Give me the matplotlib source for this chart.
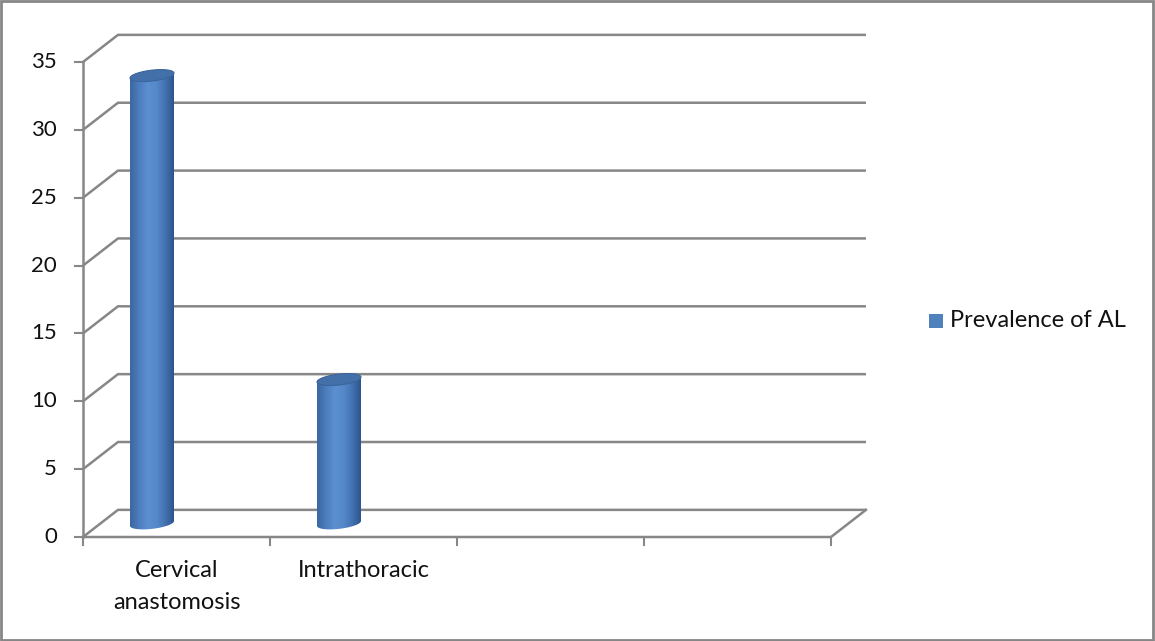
import matplotlib.pyplot as plt
import numpy as np
from matplotlib.colors import LinearSegmentedColormap
from matplotlib.patches import Polygon, Rectangle

plt.rcParams['font.family'] = ['Lato', 'DejaVu Sans']

categories = ['Cervical\nanastomosis', 'Intrathoracic', '', '']
values = [33, 10.6]
series_name = 'Prevalence of AL'
yticks = [0, 5, 10, 15, 20, 25, 30, 35]

grid_col = '#878787'
bar_col = '#4F81BD'
txt_col = '#111111'

# oblique depth offset of the back wall (category units, value units)
dx, dy = 0.187, 2.0
ncat = len(categories)

fig = plt.figure(figsize=(11.55, 6.41), dpi=100)
ax = fig.add_axes([0, 0, 1, 1])
ax.set_xlim(-0.4439, 5.7326)
ax.set_ylim(-7.663, 39.57)
ax.axis('off')

# outer frame
fig.patches.append(Rectangle((0.001, 0.002), 0.997, 0.996, transform=fig.transFigure,
                             fill=False, edgecolor='#868686', lw=2))

# side and back wall gridlines
for v in yticks:
    ax.plot([0, dx, ncat + dx], [v, v + dy, v + dy], color=grid_col, lw=1.8,
            solid_capstyle='butt', zorder=1)
# floor front and right edges
ax.plot([0, ncat, ncat + dx], [0, 0, dy], color=grid_col, lw=1.8, zorder=1)
# value axis
ax.plot([0, 0], [0, yticks[-1]], color=grid_col, lw=1.8, zorder=1)
for v in yticks:
    ax.plot([-0.045, 0], [v, v], color=grid_col, lw=1.5, zorder=1)
    ax.text(-0.139, v, str(v), ha='right', va='center', fontsize=16, color=txt_col)
# category ticks and labels
for i in range(ncat + 1):
    ax.plot([i, i], [0, -0.6], color=grid_col, lw=1.5, zorder=1)
for i, lab in enumerate(categories):
    if lab:
        ax.text(i + 0.5, -1.7, lab, ha='center', va='top', fontsize=17,
                color=txt_col, linespacing=1.65)

# cylinders
cmap = LinearSegmentedColormap.from_list('cyl', ['#3A67A0', '#4C7DBE', '#5B8FD0',
                                                '#5589CA', '#4373B2', '#2D558C'])
rx = 0.1176          # half width in category units
ry = 0.40            # half height of the end ellipses in value units
shear = 0.18         # ellipse tilt (value units per half width)
t = np.linspace(0, 2 * np.pi, 121)

for i, val in enumerate(values):
    cx = i + 0.369
    y0 = dy / 2
    y1 = val + dy / 2
    ex = cx + rx * np.cos(t)
    etilt = shear * np.cos(t)
    # body outline: left side, front half of base, right side, back half of top
    lo = t[(t >= np.pi) & (t <= 2 * np.pi)]
    hi = t[(t >= 0) & (t <= np.pi)]
    bx = np.concatenate([cx + rx * np.cos(lo), cx + rx * np.cos(hi)])
    by = np.concatenate([y0 + ry * np.sin(lo) + shear * np.cos(lo),
                         y1 + ry * np.sin(hi) + shear * np.cos(hi)])
    body = Polygon(np.column_stack([bx, by]), closed=True, facecolor='none',
                   edgecolor='none', zorder=3)
    ax.add_patch(body)
    grad = np.linspace(0, 1, 200).reshape(1, -1)
    im = ax.imshow(grad, cmap=cmap, aspect='auto', zorder=3,
                   extent=[cx - rx, cx + rx, y0 - ry - shear, y1 + ry + shear])
    im.set_clip_path(body)
    # top face
    top = Polygon(np.column_stack([ex, y1 + ry * np.sin(t) + etilt]), closed=True,
                  facecolor='#4470AA', edgecolor='#3B659C', lw=0.8, zorder=4)
    ax.add_patch(top)

# legend
ax.add_patch(Rectangle((4.522, 15.4), 0.075, 1.03, facecolor=bar_col,
                       edgecolor='none'))
ax.text(4.636, 15.95, series_name, ha='left', va='center', fontsize=17,
        color=txt_col)

fig.savefig('out.png', dpi=100)
